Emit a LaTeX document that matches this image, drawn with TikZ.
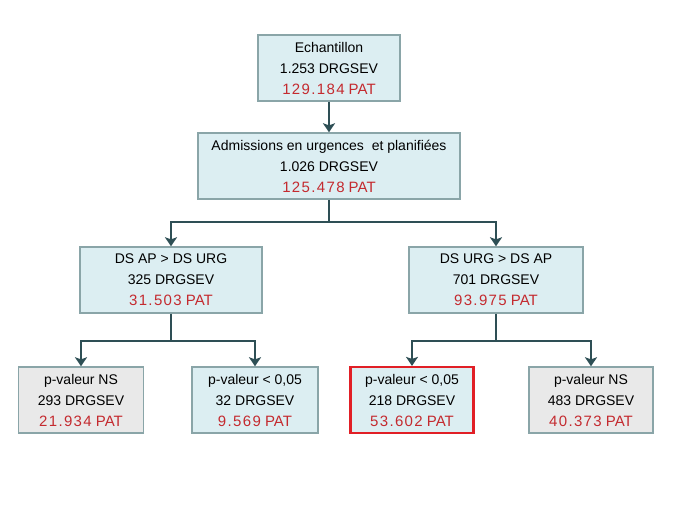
\documentclass[tikz,border=0pt]{standalone}
\usepackage{fontspec}
\setmainfont{Liberation Sans}
\newfontfamily\numfont[LetterSpace=9]{Liberation Sans}
\usepackage{xcolor}
\usepackage{tikz}
\usetikzlibrary{positioning, arrows.meta, calc}

\definecolor{boxblue}{HTML}{DCEEF2}
\definecolor{boxgrey}{HTML}{E9E9E9}
\definecolor{boxline}{HTML}{8AA5A8}
\definecolor{linkcol}{HTML}{2E4F55}
\definecolor{patred}{HTML}{C42A2F}
\definecolor{hired}{HTML}{E11F26}

\newcommand{\pat}[1]{\textcolor{patred}{\fontsize{15}{21}\selectfont{\numfont #1}\ PAT}}

\begin{document}
\begin{tikzpicture}[
  x=1pt, y=-1pt,
  font=\fontsize{14}{21}\selectfont,
  box/.style={draw=boxline, line width=1.4pt, fill=boxblue, align=center,
    minimum height=66pt, inner sep=1pt},
  greybox/.style={box, fill=boxgrey},
  redbox/.style={box, draw=hired, line width=2.2pt},
  conn/.style={draw=linkcol, line width=2pt},
  arr/.style={conn, -{Stealth[length=9pt, width=12pt, inset=2pt]}}
]
\useasboundingbox (0,0) rectangle (689,517);

% levels
\node[box, minimum width=142pt] (ech) at (329,68)
  {Echantillon\\1.253 DRGSEV\\\pat{129.184}};
\node[box, minimum width=262pt] (adm) at (329,166)
  {Admissions en urgences\ \ et planifiées\\1.026 DRGSEV\\\pat{125.478}};

\node[box, minimum width=182pt] (dsap) at (171,280)
  {DS AP > DS URG\\325 DRGSEV\\\pat{31.503}};
\node[box, minimum width=174pt] (dsurg) at (496,280)
  {DS URG > DS AP\\701 DRGSEV\\\pat{93.975}};

\node[greybox, minimum width=125pt] (ns1) at (81,400)
  {p-valeur NS\\293 DRGSEV\\\pat{21.934}};
\node[box, minimum width=126pt] (sig1) at (255,400)
  {p-valeur < 0,05\\32 DRGSEV\\\pat{9.569}};
\node[redbox, minimum width=123pt] (sig2) at (412,400)
  {p-valeur < 0,05\\218 DRGSEV\\\pat{53.602}};
\node[greybox, minimum width=124pt] (ns2) at (591,400)
  {p-valeur NS\\483 DRGSEV\\\pat{40.373}};

% connectors
\coordinate (bus1) at (329,222);
\coordinate (bus2) at (171,341);
\coordinate (bus3) at (496,341);

\draw[arr] (ech) -- (adm);
\draw[conn] (adm.south) -- (adm.south |- bus1);
\draw[arr] (adm.south |- bus1) -| (dsap.north);
\draw[arr] (adm.south |- bus1) -| (dsurg.north);

\draw[conn] (dsap.south) -- (bus2);
\draw[arr] (bus2) -| (ns1.north);
\draw[arr] (bus2) -| (sig1.north);

\draw[conn] (dsurg.south) -- (bus3);
\draw[arr] (bus3) -| (sig2.north);
\draw[arr] (bus3) -| (ns2.north);

\end{tikzpicture}
\end{document}
